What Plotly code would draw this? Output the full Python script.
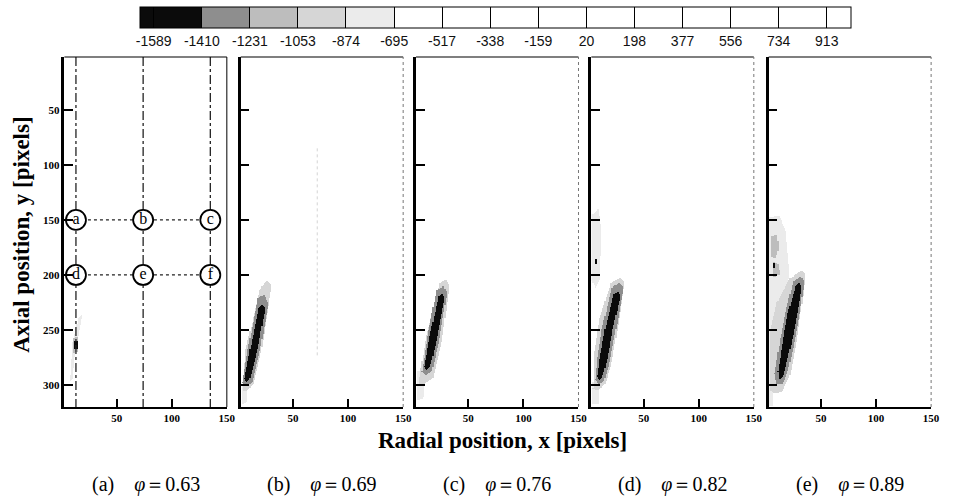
import numpy as np
import plotly.graph_objects as go

W, H = 953, 497

# ---------------- data ----------------
cbar_ticks = [-1589, -1410, -1231, -1053, -874, -695, -517, -338, -159, 20, 198, 377, 556, 734, 913]
cbar_min, cbar_max = -1641, 1002
# bins: < -1410 | -1410..-1231 | -1231..-1053 | -1053..-874 | -874..-695 | > -695
bin_colors = ['#0b0b0b', '#8e8e8e', '#bdbdbd', '#d6d6d6', '#ebebeb', '#ffffff']

panel_letters = ['a', 'b', 'c', 'd', 'e']
phi_values = ['0.63', '0.69', '0.76', '0.82', '0.89']

x_ticks = [50, 100, 150]
y_ticks = [50, 100, 150, 200, 250, 300]

# probe lines / points of panel (a)
probe_x = [13, 74, 135]
probe_y = [150, 200]
probe_labels = [['a', 'b', 'c'], ['d', 'e', 'f']]

# plume regions: (level value, outline vertices (x, y))
plume_a = [
    (-780, [(8, 292), (10, 262), (15, 240), (19, 236), (17, 246), (13, 265), (10, 295), (7, 298)]),
    (-1140, [(11, 258), (15, 256), (15, 270), (11, 272)]),
    (-1600, [(12, 261), (15, 261), (14, 268), (12, 268)]),
]
plume_b = [
    (-780, [(3, 300), (9, 298), (8, 316), (4, 318)]),
    (-960, [(20, 214), (26, 205), (31, 209), (29, 222), (21, 272), (14, 300), (8, 306), (4, 306), (7, 268)]),
    (-1320, [(18, 222), (24, 218), (28, 226), (20, 270), (13, 298), (7, 302), (4, 298), (9, 268)]),
    (-1600, [(19, 231), (22, 227), (25, 230), (18, 268), (11, 294), (8, 298), (6, 294), (11, 268)]),
]
plume_c = [
    (-780, [(4, 288), (10, 288), (9, 312), (4, 314)]),
    (-960, [(24, 208), (30, 204), (33, 210), (26, 262), (18, 294), (9, 300), (5, 300), (7, 285), (12, 255)]),
    (-1320, [(21, 214), (28, 210), (31, 216), (24, 258), (17, 288), (11, 292), (8, 288), (13, 256)]),
    (-1600, [(23, 220), (27, 217), (29, 221), (22, 256), (16, 282), (12, 287), (10, 283), (15, 256)]),
]
plume_d = [
    (-780, [(3, 145), (9, 140), (12, 160), (10, 205), (6, 212), (3, 205)]),
    (-780, [(4, 298), (10, 298), (9, 318), (4, 318)]),
    (-960, [(20, 208), (29, 202), (33, 206), (28, 240), (21, 280), (15, 300), (8, 305), (4, 303), (5, 270), (10, 240)]),
    (-1320, [(21, 212), (28, 207), (32, 212), (25, 250), (19, 280), (14, 297), (9, 300), (6, 295), (8, 275), (12, 250)]),
    (-1600, [(23, 218), (27, 215), (29, 219), (22, 250), (17, 277), (13, 292), (10, 296), (8, 292), (10, 277), (15, 250)]),
    (-1600, [(6, 186), (8, 186), (8, 191), (6, 191)]),
]
plume_e = [
    (-780, [(3, 148), (12, 146), (18, 160), (22, 200), (14, 230), (8, 280), (6, 320), (3, 320)]),
    (-960, [(22, 203), (33, 196), (36, 200), (34, 220), (28, 262), (22, 292), (15, 306), (8, 308), (4, 305), (4, 250), (10, 225)]),
    (-1140, [(5, 165), (10, 163), (12, 175), (9, 185), (5, 183)]),
    (-1140, [(6, 188), (11, 190), (13, 200), (7, 202)]),
    (-1320, [(25, 206), (32, 201), (35, 206), (31, 236), (26, 262), (20, 288), (15, 300), (10, 300), (8, 290), (13, 258), (18, 234)]),
    (-1600, [(27, 211), (31, 207), (33, 212), (29, 235), (24, 259), (18, 284), (16, 292), (12, 295), (11, 288), (15.5, 259), (20, 235)]),
    (-1600, [(7, 190), (9, 190), (9, 194), (7, 194)]),
]
plumes = [plume_a, plume_b, plume_c, plume_d, plume_e]

# ---------------- layout geometry (pixels) ----------------
panel_px = [(65, 229), (243, 407), (420, 584), (597, 761), (776, 940)]
plot_top, plot_bot = 57, 407
x_range = [2.5, 150]
y_range = [320, 2]

grid_x = np.arange(3, 46)
grid_y = np.arange(140, 321)
GX, GY = np.meshgrid(grid_x, grid_y)


def raster(regions):
    z = np.full(GX.shape, np.nan)
    for val, poly in regions:
        inside = np.zeros(GX.shape, bool)
        n = len(poly)
        j = n - 1
        with np.errstate(divide='ignore', invalid='ignore'):
            for i in range(n):
                xi, yi = poly[i]
                xj, yj = poly[j]
                cond = ((yi > GY) != (yj > GY)) & (GX < (xj - xi) * (GY - yi) / (yj - yi) + xi)
                inside ^= cond
                j = i
        z[inside] = val
    return z


def nz(v):
    return (v - cbar_min) / (cbar_max - cbar_min)


edges = [cbar_min] + cbar_ticks[1:6] + [cbar_max]
colorscale = []
for k, c in enumerate(bin_colors):
    colorscale.append([nz(edges[k]), c])
    colorscale.append([nz(edges[k + 1]), c])
colorscale[0][0] = 0.0
colorscale[-1][0] = 1.0

fig = go.Figure()
SERIF = 'Liberation Serif, Times New Roman, serif'

for i in range(5):
    n = i + 1
    xa = 'x' if n == 1 else f'x{n}'
    ya = 'y' if n == 1 else f'y{n}'
    z = raster(plumes[i])
    fig.add_trace(go.Heatmap(x=grid_x, y=grid_y, z=z, coloraxis='coloraxis',
                             xaxis=xa, yaxis=ya, hoverongaps=False))

# panel (a) probe lines and points
for px_ in probe_x:
    fig.add_trace(go.Scatter(x=[px_, px_], y=[y_range[1], y_range[0]], mode='lines',
                             line=dict(color='#222', width=1.3, dash='dashdot'),
                             xaxis='x', yaxis='y', showlegend=False, hoverinfo='skip'))
for py_ in probe_y:
    fig.add_trace(go.Scatter(x=[probe_x[0], probe_x[-1]], y=[py_, py_], mode='lines',
                             line=dict(color='#222', width=1.3, dash='dot'),
                             xaxis='x', yaxis='y', showlegend=False, hoverinfo='skip'))
cx, cy, ct = [], [], []
for r, py_ in enumerate(probe_y):
    for c, px_ in enumerate(probe_x):
        cx.append(px_); cy.append(py_); ct.append(probe_labels[r][c])
fig.add_trace(go.Scatter(x=cx, y=cy, mode='markers+text', text=ct, textposition='middle center',
                         marker=dict(size=20, color='white', line=dict(color='black', width=1.8)),
                         textfont=dict(family=SERIF, size=16, color='black'),
                         xaxis='x', yaxis='y', showlegend=False, hoverinfo='skip'))
# faint residual line in panel (b)
fig.add_trace(go.Scatter(x=[72, 72], y=[85, 275], mode='lines',
                         line=dict(color='#d4d4d4', width=1, dash='dot'),
                         xaxis='x2', yaxis='y2', showlegend=False, hoverinfo='skip'))

layout = dict(
    width=W, height=H, margin=dict(l=0, r=0, t=0, b=0),
    paper_bgcolor='white', plot_bgcolor='white', showlegend=False,
    coloraxis=dict(
        colorscale=colorscale, cmin=cbar_min, cmax=cbar_max,
        colorbar=dict(orientation='h', x=141 / W, xanchor='left', y=1 - 7 / H, yanchor='top',
                      len=711, lenmode='pixels', thickness=21, thicknessmode='pixels',
                      outlinewidth=1, outlinecolor='black', xpad=0, ypad=0,
                      tickvals=cbar_ticks, ticktext=[str(t) for t in cbar_ticks],
                      ticks='inside', ticklen=21, tickwidth=1, tickcolor='black',
                      tickfont=dict(family='Liberation Sans, Arial, sans-serif', size=14, color='#111'))),
)
shapes = []
annotations = []
ydom = [1 - plot_bot / H, 1 - plot_top / H]
for i in range(5):
    n = i + 1
    l, r = panel_px[i]
    xkey = 'xaxis' if n == 1 else f'xaxis{n}'
    ykey = 'yaxis' if n == 1 else f'yaxis{n}'
    layout[xkey] = dict(domain=[l / W, r / W], range=x_range, anchor='y' if n == 1 else f'y{n}',
                        tickvals=x_ticks, ticks='inside', ticklen=8, tickwidth=1.5, tickcolor='black',
                        showline=True, linewidth=2, linecolor='black', showgrid=False, zeroline=False,
                        tickfont=dict(family=SERIF, size=11, color='black', weight='bold'))
    layout[ykey] = dict(domain=ydom, range=y_range, anchor='x' if n == 1 else f'x{n}',
                        tickvals=y_ticks, ticks='inside', ticklen=9, tickwidth=2, tickcolor='black',
                        showticklabels=(n == 1),
                        showline=True, linewidth=2.5, linecolor='black', showgrid=False, zeroline=False,
                        tickfont=dict(family=SERIF, size=11, color='black', weight='bold'))
    xd = ('x' if n == 1 else f'x{n}') + ' domain'
    yd = ('y' if n == 1 else f'y{n}') + ' domain'
    shapes.append(dict(type='line', xref=xd, yref=yd, x0=0, x1=1, y0=1, y1=1,
                       line=dict(color='black', width=1.2)))
    shapes.append(dict(type='line', xref=xd, yref=yd, x0=1, x1=1, y0=0, y1=1,
                       line=dict(color='black' if n == 1 else '#777', width=1,
                                 dash='solid' if n == 1 else 'dot')))
    annotations.append(dict(x=(l + r) / 2 / W, y=1 - 484 / H, xref='paper', yref='paper',
                            text=f'({panel_letters[i]})\u2003<i>\u03c6</i>\uff1d{phi_values[i]}',
                            showarrow=False, xanchor='center', yanchor='middle',
                            font=dict(family=SERIF, size=20, color='black')))

annotations.append(dict(x=507 / W, y=1 - 440 / H, xref='paper', yref='paper',
                        text='<b>Radial position, x [pixels]</b>', showarrow=False,
                        xanchor='center', yanchor='middle',
                        font=dict(family=SERIF, size=23, color='black')))
annotations.append(dict(x=21 / W, y=1 - 235 / H, xref='paper', yref='paper',
                        text='<b>Axial position, y [pixels]</b>', showarrow=False, textangle=-90,
                        xanchor='center', yanchor='middle',
                        font=dict(family=SERIF, size=23, color='black')))
layout['shapes'] = shapes
layout['annotations'] = annotations
fig.update_layout(**layout)
fig.write_html('out.html')
